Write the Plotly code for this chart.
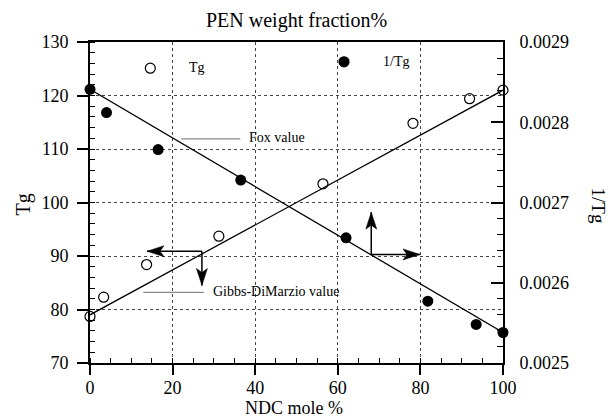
import plotly.graph_objects as go

# Measured glass transition temperatures (open circles, left axis)
ndc_tg = [0, 3.3, 13.7, 31.2, 56.4, 78.2, 91.9, 100]
tg_values = [78.7, 82.3, 88.4, 93.7, 103.5, 114.8, 119.4, 121.0]

# Reciprocal Tg (filled circles, right axis)
ndc_inv = [0, 4.0, 16.5, 36.5, 62.0, 81.8, 93.5, 100]
inv_tg_values = [0.002841, 0.002812, 0.002766, 0.002728, 0.002656, 0.002577, 0.002548, 0.002538]

# Model predictions
fox_x = [0, 100]
fox_inv_tg = [0.002841, 0.002538]
gd_x = [0, 100]
gd_tg = [79.0, 121.0]

# Axis ticks
x_ticks = [0, 20, 40, 60, 80, 100]
tg_ticks = [70, 80, 90, 100, 110, 120, 130]
inv_ticks = [0.0025, 0.0026, 0.0027, 0.0028, 0.0029]
inv_tick_text = ["0.0025", "0.0026", "0.0027", "0.0028", "0.0029"]

SERIF = "Liberation Serif, Times New Roman, serif"

fig = go.Figure()

fig.add_trace(go.Scatter(x=gd_x, y=gd_tg, mode="lines",
                         line=dict(color="black", width=1.3),
                         showlegend=False, hoverinfo="skip"))
fig.add_trace(go.Scatter(x=fox_x, y=fox_inv_tg, mode="lines", yaxis="y2",
                         line=dict(color="black", width=1.3),
                         showlegend=False, hoverinfo="skip"))
fig.add_trace(go.Scatter(x=ndc_tg, y=tg_values, mode="markers", name="Tg",
                         marker=dict(symbol="circle-open", size=10, color="black",
                                     line=dict(width=1.2, color="black")),
                         cliponaxis=False, showlegend=False))
fig.add_trace(go.Scatter(x=ndc_inv, y=inv_tg_values, mode="markers", name="1/Tg",
                         yaxis="y2",
                         marker=dict(symbol="circle", size=11, color="black"),
                         cliponaxis=False, showlegend=False))

shapes = []
annotations = []

# Key markers
def key_marker(x, y, filled):
    shapes.append(dict(type="circle", xref="x", yref="y",
                       xsizemode="pixel", ysizemode="pixel",
                       xanchor=x, yanchor=y, x0=-5, x1=5, y0=-5, y1=5,
                       line=dict(color="black", width=1.2),
                       fillcolor="black" if filled else "white"))

key_marker(14.6, 125.1, False)
key_marker(61.5, 126.3, True)

def label(x, y, text, size=14):
    annotations.append(dict(x=x, y=y, xref="x", yref="y", text=text,
                            showarrow=False, xanchor="left", yanchor="middle",
                            font=dict(family=SERIF, size=size, color="black")))

label(23.5, 125.3, "Tg")
label(70.5, 126.3, "1/Tg")

# Line keys for the two models
shapes.append(dict(type="line", xref="x", yref="y", x0=22.1, x1=36.4, y0=111.9, y1=111.9,
                   line=dict(color="#8a8a8a", width=1.2)))
label(38.0, 112.1, "Fox value")
shapes.append(dict(type="line", xref="x", yref="y", x0=12.9, x1=27.6, y0=83.2, y1=83.2,
                   line=dict(color="#8a8a8a", width=1.2)))
label(29.4, 83.4, "Gibbs-DiMarzio value")

# Axis indicator arrows: (tail_x, tail_y, tip_x, tip_y, direction)
arrows = [
    (27.1, 90.9, 13.8, 90.9, "left"),
    (27.1, 90.9, 27.1, 84.5, "down"),
    (68.1, 90.3, 68.1, 98.2, "up"),
    (68.1, 90.3, 79.9, 90.3, "right"),
]
L, W, N = 17, 5.5, 4
head_paths = {
    "left": f"M0,0 L{L},{W} L{L-N},0 L{L},{-W} Z",
    "right": f"M0,0 L{-L},{W} L{-L+N},0 L{-L},{-W} Z",
    "up": f"M0,0 L{W},{-L} L0,{-L+N} L{-W},{-L} Z",
    "down": f"M0,0 L{W},{L} L0,{L-N} L{-W},{L} Z",
}
for tx, ty, hx, hy, d in arrows:
    shapes.append(dict(type="line", xref="x", yref="y", x0=tx, y0=ty, x1=hx, y1=hy,
                       line=dict(color="black", width=1.5)))
    shapes.append(dict(type="path", xref="x", yref="y",
                       xsizemode="pixel", ysizemode="pixel",
                       xanchor=hx, yanchor=hy, path=head_paths[d],
                       fillcolor="black", line=dict(color="black", width=0.5)))

# Titles
annotations.append(dict(x=0.5, y=1.0, xref="paper", yref="paper", yshift=22,
                        text="PEN weight fraction%", showarrow=False,
                        xanchor="center", yanchor="middle",
                        font=dict(family=SERIF, size=20, color="black")))
annotations.append(dict(x=0.4935, y=0, xref="paper", yref="paper", yshift=-45,
                        text="NDC mole %", showarrow=False,
                        xanchor="center", yanchor="middle",
                        font=dict(family=SERIF, size=18, color="black")))
annotations.append(dict(x=0, y=0.5, xref="paper", yref="paper", xshift=-67,
                        yshift=-2, text="Tg", showarrow=False, textangle=-90,
                        xanchor="center", yanchor="middle",
                        font=dict(family=SERIF, size=20, color="black")))
annotations.append(dict(x=1, y=0.5, xref="paper", yref="paper", xshift=95,
                        yshift=-3, text="1/Tg", showarrow=False, textangle=90,
                        xanchor="center", yanchor="middle",
                        font=dict(family=SERIF, size=19, color="black")))

tick_font = dict(family=SERIF, size=18, color="black")

fig.update_layout(
    width=611, height=417,
    margin=dict(l=90, r=108, t=42, b=54),
    paper_bgcolor="white", plot_bgcolor="white",
    font=dict(family=SERIF, color="black"),
    shapes=shapes, annotations=annotations,
    xaxis=dict(range=[0, 100], tickvals=x_ticks, ticks="outside", ticklen=10,
               tickwidth=1.5, tickcolor="black", showline=True, linewidth=2,
               linecolor="black", mirror=True, showgrid=True, gridcolor="#444",
               griddash="dot", gridwidth=1, zeroline=False, tickfont=tick_font,
               ticklabelstandoff=-3,
               minor=dict(dtick=5, ticks="inside", ticklen=5, tickwidth=1.2,
                          tickcolor="black", showgrid=False)),
    yaxis=dict(range=[70, 130], tickvals=tg_ticks, ticks="outside", ticklen=11,
               tickwidth=1.5, tickcolor="black", showline=True, linewidth=2,
               linecolor="black", showgrid=True, gridcolor="#444",
               griddash="dot", gridwidth=1, zeroline=False, tickfont=tick_font,
               ticklabelstandoff=5,
               minor=dict(dtick=2, ticks="inside", ticklen=5, tickwidth=1.2,
                          tickcolor="black", showgrid=False)),
    yaxis2=dict(range=[0.0025, 0.0029], overlaying="y", side="right",
                tickvals=inv_ticks, ticktext=inv_tick_text, ticks="inside",
                ticklen=12, tickwidth=1.5, tickcolor="black", showline=True,
                linewidth=2, linecolor="black", showgrid=False, zeroline=False,
                tickfont=tick_font, ticklabelstandoff=11,
                minor=dict(dtick=0.00002, ticks="inside", ticklen=6,
                           tickwidth=1.2, tickcolor="black", showgrid=False)),
)

fig.write_html("out.html")
